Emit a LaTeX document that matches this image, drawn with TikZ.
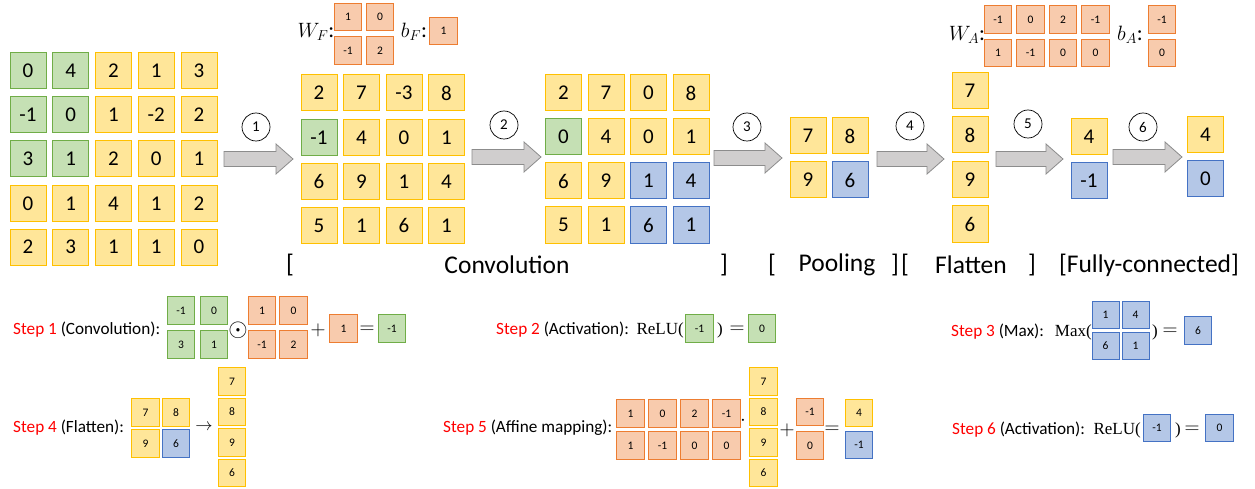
\documentclass[tikz,border=0pt]{standalone}
\usepackage[no-math]{fontspec}
\setmainfont{Carlito}
\newfontfamily\fnserif{Liberation Serif}
\definecolor{yfill}{HTML}{FFE699}
\definecolor{yline}{HTML}{FFC000}
\definecolor{gfill}{HTML}{C5E0B4}
\definecolor{gline}{HTML}{70AD47}
\definecolor{bfill}{HTML}{B4C7E7}
\definecolor{bline}{HTML}{4472C4}
\definecolor{ofill}{HTML}{F8CBAD}
\definecolor{oline}{HTML}{ED7D31}
\definecolor{afill}{HTML}{D0CECE}
\definecolor{aline}{HTML}{8C8C8C}
\newcommand\blockarrow[4]{% name, x1, x2, y
  \coordinate (#1) at (#2,#4);
  \draw[bigarrow] (#2,#4-7.5) -- (#3-17,#4-7.5) -- (#3-17,#4-15) -- (#3,#4)
    -- (#3-17,#4+15) -- (#3-17,#4+7.5) -- (#2,#4+7.5) -- cycle;}
\tikzset{
  cell/.style={draw, line width=1pt, inner sep=0pt},
  big/.style={cell, minimum size=36, font=\fontsize{21}{21}\selectfont},
  small/.style={cell, minimum size=27.5, line width=0.9pt, font=\fontsize{11.5}{11.5}\selectfont},
  Y/.style={fill=yfill, draw=yline},
  G/.style={fill=gfill, draw=gline},
  B/.style={fill=bfill, draw=bline},
  O/.style={fill=ofill, draw=oline},
  bigarrow/.style={fill=afill, draw=aline, line width=0.8pt},
  num/.style={circle, draw, line width=0.7pt, minimum size=28, inner sep=0pt, font=\fontsize{15}{15}\selectfont},
  lbl/.style={inner sep=0pt, font=\fontsize{25.5}{25.5}\selectfont},
  steptxt/.style={inner sep=0pt, anchor=west, font=\fontsize{17.2}{17.2}\selectfont},
  mtxt/.style={inner sep=0pt, font=\fontsize{22}{22}\selectfont},
  optxt/.style={inner sep=0pt, font=\fontsize{20}{20}\selectfont},
  fntxt/.style={inner sep=0pt, font=\fnserif\fontsize{17}{17}\selectfont},
}
\begin{document}
\begin{tikzpicture}[x=1pt,y=-1pt]
\useasboundingbox (0,0) rectangle (1255,489);
% input matrix
\foreach \st/\v [count=\i from 0] in {G/0,G/4,Y/2,Y/1,Y/3}
  \node[big,\st] (in1\i) at (28+42.75*\i,71) {\v};
\foreach \st/\v [count=\i from 0] in {G/-1,G/0,Y/1,Y/-2,Y/2}
  \node[big,\st] (in2\i) at (28+42.75*\i,115) {\v};
\foreach \st/\v [count=\i from 0] in {G/3,G/1,Y/2,Y/0,Y/1}
  \node[big,\st] (in3\i) at (28+42.75*\i,159) {\v};
\foreach \st/\v [count=\i from 0] in {Y/0,Y/1,Y/4,Y/1,Y/2}
  \node[big,\st] (in4\i) at (28+42.75*\i,203.5) {\v};
\foreach \st/\v [count=\i from 0] in {Y/2,Y/3,Y/1,Y/1,Y/0}
  \node[big,\st] (in5\i) at (28+42.75*\i,247) {\v};
% conv output
\foreach \st/\v [count=\i from 0] in {Y/2,Y/7,Y/-3,Y/8}
  \node[big,\st] (cv1\i) at (319+42.5*\i,93) {\v};
\foreach \st/\v [count=\i from 0] in {G/-1,Y/4,Y/0,Y/1}
  \node[big,\st] (cv2\i) at (319+42.5*\i,137.5) {\v};
\foreach \st/\v [count=\i from 0] in {Y/6,Y/9,Y/1,Y/4}
  \node[big,\st] (cv3\i) at (319+42.5*\i,181.5) {\v};
\foreach \st/\v [count=\i from 0] in {Y/5,Y/1,Y/6,Y/1}
  \node[big,\st] (cv4\i) at (319+42.5*\i,225.5) {\v};
% activation output
\foreach \st/\v [count=\i from 0] in {Y/2,Y/7,Y/0,Y/8}
  \node[big,\st] (ac1\i) at (563.5+42.5*\i,93) {\v};
\foreach \st/\v [count=\i from 0] in {G/0,Y/4,Y/0,Y/1}
  \node[big,\st] (ac2\i) at (563.5+42.5*\i,137) {\v};
\foreach \st/\v [count=\i from 0] in {Y/6,Y/9,B/1,B/4}
  \node[big,\st] (ac3\i) at (563.5+42.5*\i,181) {\v};
\foreach \st/\v [count=\i from 0] in {Y/5,Y/1,B/6,B/1}
  \node[big,\st] (ac4\i) at (563.5+42.5*\i,225) {\v};
% pooling
\node[big,Y] (p11) at (808,136) {7};
\node[big,Y] (p12) at (850,136) {8};
\node[big,Y] (p21) at (808,180) {9};
\node[big,B] (p22) at (850,180) {6};
% flatten
\node[big,Y] (f1) at (970,91) {7};
\node[big,Y] (f2) at (970,135) {8};
\node[big,Y] (f3) at (970,180) {9};
\node[big,Y] (f4) at (970,224) {6};
% fully connected
\node[big,Y] (fc1) at (1089,136.5) {4};
\node[big,B] (fc2) at (1089,181) {-1};
\node[big,Y] (o1) at (1205.5,135) {4};
\node[big,B] (o2) at (1205.5,179) {0};
% W_F, b_F
\node[mtxt] (wfl) at (316,32) {$W_F$:};
\node[small,O] (wf11) at (348,17) {1};
\node[small,O] (wf12) at (380,17) {0};
\node[small,O] (wf21) at (348,50.5) {-1};
\node[small,O] (wf22) at (380,50.5) {2};
\node[mtxt] (bfl) at (414,32) {$b_F$:};
\node[small,O] (bf) at (443.5,31) {1};
% W_A, b_A
\node[mtxt] (wal) at (967,35) {$W_A$:};
\foreach \v [count=\i from 0] in {-1,0,2,-1}
  \node[small,O] (wa1\i) at (998+32.5*\i,19.5) {\v};
\foreach \v [count=\i from 0] in {1,-1,0,0}
  \node[small,O] (wa2\i) at (998+32.5*\i,53) {\v};
\node[mtxt] (bal) at (1130,35) {$b_A$:};
\node[small,O] (ba1) at (1162,19.5) {-1};
\node[small,O] (ba2) at (1162,53) {0};
% block arrows and step numbers
\blockarrow{a1}{224}{293}{159}
\blockarrow{a2}{472}{541}{157}
\blockarrow{a3}{714}{782}{158}
\blockarrow{a4}{877}{944}{159}
\blockarrow{a5}{996}{1063}{159}
\blockarrow{a6}{1113}{1182}{157}
\node[num] (n1) at (256,127) {1};
\node[num] (n2) at (504,125) {2};
\node[num] (n3) at (747,127) {3};
\node[num] (n4) at (910,126) {4};
\node[num] (n5) at (1028,124) {5};
\node[num] (n6) at (1143,127) {6};
% stage labels
\node[lbl] (l1) at (290,265) {[};
\node[lbl] (l2) at (507,265) {Convolution};
\node[lbl] (l3) at (724,265) {]};
\node[lbl] (l4) at (772,265) {[};
\node[lbl] (l5) at (837,265) {Pooling};
\node[lbl] (l6) at (895,265) {]};
\node[lbl] (l7) at (905,265) {[};
\node[lbl] (l8) at (971,265) {Flatten};
\node[lbl] (l9) at (1032,265) {]};
\node[lbl] (l10) at (1149,265) {[Fully-connected]};
% Step 1
\node[steptxt] (s1) at (13,330) {\textcolor{red}{Step 1} (Convolution):};
\node[small,G] (s1a) at (181,310.5) {-1};
\node[small,G] (s1b) at (214,310.5) {0};
\node[small,G] (s1c) at (181,344.5) {3};
\node[small,G] (s1d) at (214,344.5) {1};
\node[optxt,font=\fontsize{24}{24}\selectfont] (s1o) at (238,330) {$\odot$};
\node[small,O] (s1e) at (262,310.5) {1};
\node[small,O] (s1f) at (293.5,310.5) {0};
\node[small,O] (s1g) at (262,344.5) {-1};
\node[small,O] (s1h) at (293.5,344.5) {2};
\node[optxt] (s1p) at (318,330) {$+$};
\node[small,O] (s1i) at (343.5,328.5) {1};
\node[optxt] (s1q) at (367,330) {$=$};
\node[small,G] (s1r) at (392,328.5) {-1};
% Step 2
\node[steptxt] (s2) at (496,330) {\textcolor{red}{Step 2} (Activation):};
\node[fntxt, anchor=east] (s2f) at (684,330) {ReLU(};
\node[small,G] (s2a) at (699.5,328.5) {-1};
\node[fntxt] (s2c) at (720,330) {)};
\node[optxt] (s2q) at (737,330) {$=$};
\node[small,G] (s2r) at (762,328.5) {0};
% Step 3
\node[steptxt] (s3) at (951,332) {\textcolor{red}{Step 3} (Max):};
\node[fntxt, anchor=east] (s3f) at (1092,332) {Max(};
\node[small,B,minimum size=27] (s3a) at (1105.5,315) {1};
\node[small,B,minimum size=27] (s3b) at (1135.5,315) {4};
\node[small,B,minimum size=27] (s3c) at (1105.5,346) {6};
\node[small,B,minimum size=27] (s3d) at (1135.5,346) {1};
\node[fntxt] (s3c2) at (1155,332) {)};
\node[optxt] (s3q) at (1170,332) {$=$};
\node[small,B] (s3r) at (1198,330.5) {6};
% Step 4
\node[steptxt] (s4) at (13,428) {\textcolor{red}{Step 4} (Flatten):};
\node[small,Y] (s4a) at (145.5,412.5) {7};
\node[small,Y] (s4b) at (176,412.5) {8};
\node[small,Y] (s4c) at (145.5,443.5) {9};
\node[small,B] (s4d) at (176,443.5) {6};
\node[optxt,font=\fontsize{17}{17}\selectfont] (s4t) at (204,427) {$\rightarrow$};
\node[small,Y] (s4e) at (232,381.5) {7};
\node[small,Y] (s4f) at (232,412) {8};
\node[small,Y] (s4g) at (232,442.5) {9};
\node[small,Y] (s4h) at (232,473) {6};
% Step 5
\node[steptxt] (s5) at (443,428) {\textcolor{red}{Step 5} (Affine mapping):};
\foreach \v [count=\i from 0] in {1,0,2,-1}
  \node[small,O] (s5a\i) at (630.5+32*\i,413.5) {\v};
\foreach \v [count=\i from 0] in {1,-1,0,0}
  \node[small,O] (s5b\i) at (630.5+32*\i,445.5) {\v};
\node[optxt] (s5dot) at (743,421) {$\cdot$};
\node[small,Y] (s5c) at (763.5,381.5) {7};
\node[small,Y] (s5d) at (763.5,412) {8};
\node[small,Y] (s5e) at (763.5,442.5) {9};
\node[small,Y] (s5f) at (763.5,473) {6};
\node[optxt] (s5p) at (787,430) {$+$};
\node[small,O] (s5g) at (810,412) {-1};
\node[small,O] (s5h) at (810,445.5) {0};
\node[optxt] (s5q) at (832,430) {$=$};
\node[small,Y] (s5r) at (859,413) {4};
\node[small,B] (s5s) at (859,445) {-1};
% Step 6
\node[steptxt] (s6) at (952,430) {\textcolor{red}{Step 6} (Activation):};
\node[fntxt, anchor=east] (s6f) at (1141,430) {ReLU(};
\node[small,B] (s6a) at (1157,428) {-1};
\node[fntxt] (s6c) at (1178,430) {)};
\node[optxt] (s6q) at (1192,430) {$=$};
\node[small,B] (s6r) at (1219.5,428) {0};
\end{tikzpicture}
\end{document}
